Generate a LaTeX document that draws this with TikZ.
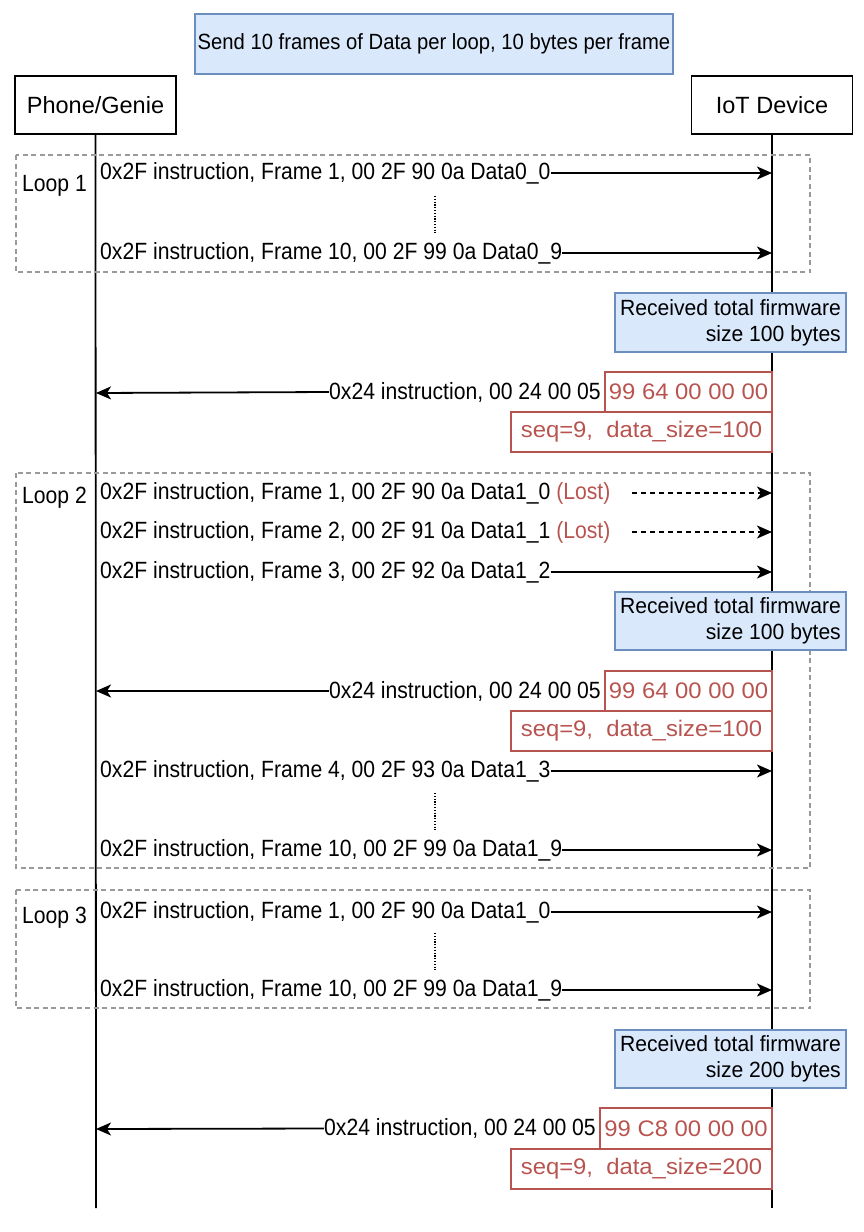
\documentclass[tikz,border=0pt]{standalone}
\usepackage{fontspec}
\setmainfont{Liberation Sans}
\newfontfamily\condfont{Liberation Sans}[FakeStretch=0.9]
\newfontfamily\titlefont{Liberation Sans}[FakeStretch=0.92]
\newfontfamily\notefont{Liberation Sans}[FakeStretch=0.96]
\newfontfamily\widefont{Liberation Sans}[FakeStretch=1.06]
\usetikzlibrary{arrows.meta}
\definecolor{notebg}{HTML}{DAE8FC}
\definecolor{notebd}{HTML}{6C8EBF}
\definecolor{redc}{HTML}{B85450}
\definecolor{framec}{HTML}{9A9A9A}
\newcommand{\msgfont}{\condfont\fontsize{23.5}{27}\selectfont}
\tikzset{
  lbl/.style={anchor=west, inner sep=0pt, font=\msgfont},
  msg/.style={-{Stealth[length=15pt,width=13pt,inset=4pt]}, line width=1.8pt},
  lostmsg/.style={msg, dash pattern=on 5pt off 4pt},
  loopframe/.style={draw=framec, line width=1.4pt, dash pattern=on 5pt off 3.5pt},
  note/.style={draw=notebd, fill=notebg, line width=1.8pt, align=right, inner xsep=4pt, font=\notefont\fontsize{22}{26}\selectfont},
  redbox/.style={draw=redc, line width=2pt, text=redc, font=\widefont\fontsize{22.5}{26}\selectfont, inner sep=0pt},
  actor/.style={draw, line width=1.8pt, minimum width=161pt, minimum height=58pt, inner sep=0pt, font=\fontsize{23.5}{27}\selectfont},
  life/.style={line width=1.8pt},
  ellip/.style={line width=1.1pt, dash pattern=on 1.2pt off 1.6pt},
  looplbl/.style={anchor=west, inner sep=0pt, font=\msgfont}
}
\begin{document}
\begin{tikzpicture}[x=1pt,y=-1pt]
\useasboundingbox (0,0) rectangle (864,1232);
% title
\node[draw=notebd, fill=notebg, line width=1.8pt, minimum width=478pt, minimum height=60pt, inner sep=0pt, font=\titlefont\fontsize{22}{26}\selectfont] (title) at (434,44) {Send 10 frames of Data per loop, 10 bytes per frame};
% actors
\node[actor] (phone) at (95.5,105) {Phone/Genie};
\node[actor] (iot) at (772,105) {IoT Device};
\coordinate (pend) at (96,1208);
\coordinate (iend) at (772,1208);
\draw[life] (phone.south) -- (pend);
\draw[life] (iot.south) -- (iend);
% loop frames
\draw[loopframe] (16,155) rectangle (810,272);
\draw[loopframe] (16,473) rectangle (810,868);
\draw[loopframe] (16,890) rectangle (810,1008);
\node[looplbl] (l1) at (22,186) {Loop 1};
\node[looplbl] (l2) at (22,498) {Loop 2};
\node[looplbl] (l3) at (22,918) {Loop 3};
% Loop 1
\coordinate (a1) at (772,173);
\coordinate (a2) at (772,253);
\node[lbl] (m1) at (100,173) {0x2F instruction, Frame 1, 00 2F 90 0a Data0\_0};
\draw[msg] (m1.east) -- (a1);
\draw[ellip] (435,196) -- (435,233);
\node[lbl] (m2) at (100,253) {0x2F instruction, Frame 10, 00 2F 99 0a Data0\_9};
\draw[msg] (m2.east) -- (a2);
% Note 1
\node[note, minimum width=231pt, minimum height=59pt] (n1) at (730.5,322.5) {Received total firmware\\size 100 bytes};
% Response 1
\node[redbox, minimum width=167pt, minimum height=40pt] (r1a) at (688.5,392) {99 64 00 00 00};
\node[redbox, minimum width=261pt, minimum height=40pt] (r1b) at (641.5,432) {seq=9,\ \ data\_size=100};
\node[lbl, anchor=east] (m3) at ([xshift=-3pt]r1a.west) {0x24 instruction, 00 24 00 05};
\coordinate (p1) at (96,393);
\draw[msg] (m3.west) -- (p1);
% Loop 2
\node[lbl] (m4) at (100,493) {0x2F instruction, Frame 1, 00 2F 90 0a Data1\_0 \textcolor{redc}{(Lost)}};
\coordinate (a4s) at (632,493);
\coordinate (a4) at (772,493);
\draw[lostmsg] (a4s) -- (a4);
\node[lbl] (m5) at (100,532) {0x2F instruction, Frame 2, 00 2F 91 0a Data1\_1 \textcolor{redc}{(Lost)}};
\coordinate (a5s) at (632,532);
\coordinate (a5) at (772,532);
\draw[lostmsg] (a5s) -- (a5);
\node[lbl] (m6) at (100,572) {0x2F instruction, Frame 3, 00 2F 92 0a Data1\_2};
\coordinate (a6) at (772,572);
\draw[msg] (m6.east) -- (a6);
\node[note, minimum width=231pt, minimum height=58pt] (n2) at (730.5,621) {Received total firmware\\size 100 bytes};
\node[redbox, minimum width=167pt, minimum height=40pt] (r2a) at (688.5,691) {99 64 00 00 00};
\node[redbox, minimum width=261pt, minimum height=40pt] (r2b) at (641.5,731) {seq=9,\ \ data\_size=100};
\node[lbl, anchor=east] (m7) at ([xshift=-3pt]r2a.west) {0x24 instruction, 00 24 00 05};
\coordinate (p2) at (96,691);
\draw[msg] (m7.west) -- (p2);
\node[lbl] (m8) at (100,771) {0x2F instruction, Frame 4, 00 2F 93 0a Data1\_3};
\coordinate (a8) at (772,771);
\draw[msg] (m8.east) -- (a8);
\draw[ellip] (435,793) -- (435,830);
\node[lbl] (m9) at (100,850) {0x2F instruction, Frame 10, 00 2F 99 0a Data1\_9};
\coordinate (a9) at (772,850);
\draw[msg] (m9.east) -- (a9);
% Loop 3
\node[lbl] (m10) at (100,912) {0x2F instruction, Frame 1, 00 2F 90 0a Data1\_0};
\coordinate (a10) at (772,912);
\draw[msg] (m10.east) -- (a10);
\draw[ellip] (435,933) -- (435,970);
\node[lbl] (m11) at (100,990) {0x2F instruction, Frame 10, 00 2F 99 0a Data1\_9};
\coordinate (a11) at (772,990);
\draw[msg] (m11.east) -- (a11);
\node[note, minimum width=231pt, minimum height=58pt] (n3) at (730.5,1059) {Received total firmware\\size 200 bytes};
\node[redbox, minimum width=172pt, minimum height=41pt] (r3a) at (686,1128.5) {99 C8 00 00 00};
\node[redbox, minimum width=261pt, minimum height=40pt] (r3b) at (641.5,1169) {seq=9,\ \ data\_size=200};
\node[lbl, anchor=east] (m12) at ([xshift=-3pt]r3a.west) {0x24 instruction, 00 24 00 05};
\coordinate (p3) at (96,1129);
\draw[msg] (m12.west) -- (p3);
\end{tikzpicture}
\end{document}
